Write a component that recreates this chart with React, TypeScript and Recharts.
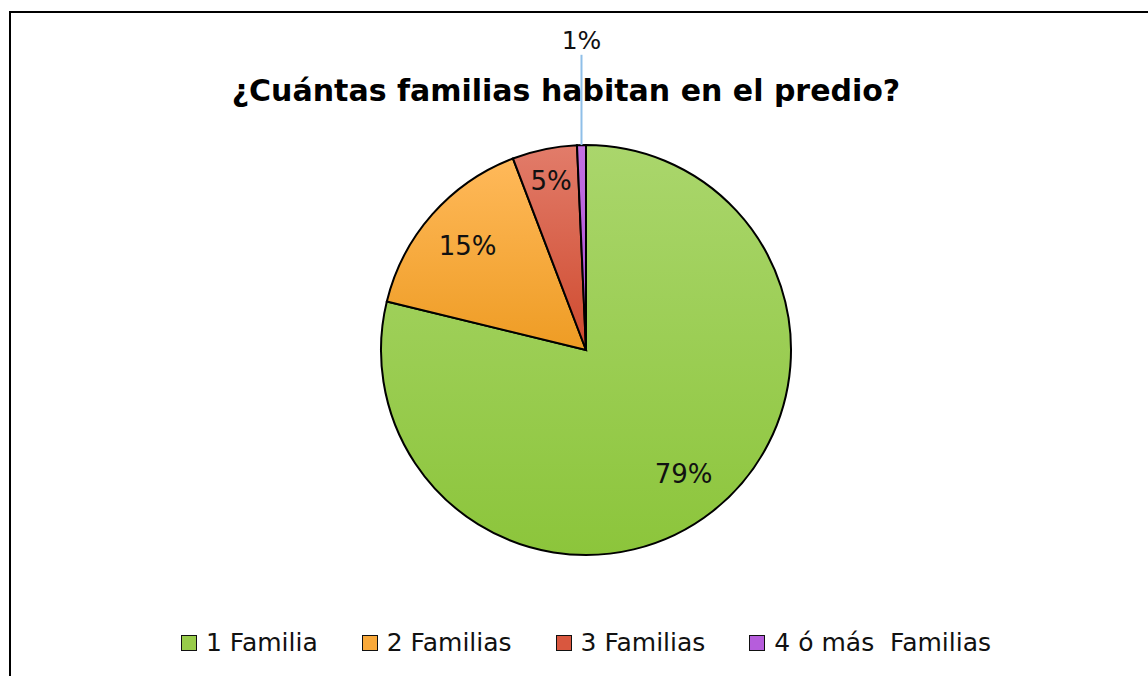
import React from 'react';
import { PieChart, Pie, Cell, Legend } from 'recharts';

const categories = ['1 Familia', '2 Familias', '3 Familias', '4 ó más  Familias'];
const shares = [78.8, 15.4, 5.1, 0.7];
const labelTexts = ['79%', '15%', '5%', '1%'];

const GRADIENTS = [
  ['#aad66c', '#8cc53b'],
  ['#ffb95a', '#ee9c24'],
  ['#e27c6a', '#cf4a2e'],
  ['#c272e2', '#a94bd2'],
];
const LEGEND_COLORS = ['#98cc4a', '#f9a93a', '#d9573f', '#b65ddc'];

const RADIAN = Math.PI / 180;
const FONT = "'DejaVu Sans', sans-serif";

const data = categories.map((name, i) => ({ name, value: shares[i] }));

const renderLabel = (props: any) => {
  const { cx, cy, midAngle, outerRadius, index } = props;
  const cos = Math.cos(-midAngle * RADIAN);
  const sin = Math.sin(-midAngle * RADIAN);
  if (index === 3) {
    // small slice: label sits above the pie with a leader line
    const x1 = cx + outerRadius * cos;
    const y1 = cy + outerRadius * sin;
    const y2 = cy - outerRadius * 1.44;
    return (
      <g>
        <line x1={x1} y1={y1} x2={x1} y2={y2} stroke="#8fbfe8" strokeWidth={2} />
        <text x={x1} y={cy - outerRadius * 1.51} textAnchor="middle" dominantBaseline="central"
          fontFamily={FONT} fontSize={25} fill="#111">
          {labelTexts[index]}
        </text>
      </g>
    );
  }
  const factor = index === 2 ? 0.84 : 0.77;
  const x = cx + outerRadius * factor * cos;
  const y = cy + outerRadius * factor * sin;
  return (
    <text x={x} y={y} textAnchor="middle" dominantBaseline="central"
      fontFamily={FONT} fontSize={26} fill="#111">
      {labelTexts[index]}
    </text>
  );
};

const renderLegend = () => (
  <div style={{ display: 'flex', justifyContent: 'center', gap: 44, paddingLeft: 24, fontFamily: FONT, fontSize: 25, color: '#111' }}>
    {categories.map((c, i) => (
      <div key={c} style={{ display: 'flex', alignItems: 'center' }}>
        <span style={{ width: 14, height: 14, border: '1.5px solid #111', background: LEGEND_COLORS[i], marginRight: 9 }} />
        <span style={{ whiteSpace: 'pre' }}>{c}</span>
      </div>
    ))}
  </div>
);

export default function App() {
  return (
    <div style={{ position: 'absolute', left: 0, top: 0, width: 1148, height: 676, overflow: 'hidden', background: '#fff' }}>
      <div style={{ position: 'absolute', left: 9, top: 11, width: 1200, height: 700, borderTop: '2px solid #000', borderLeft: '2px solid #000' }} />
      <div style={{ position: 'absolute', left: 0, top: 73, width: 1132, textAlign: 'center', fontFamily: FONT, fontWeight: 'bold', fontSize: 30, color: '#000' }}>
        ¿Cuántas familias habitan en el predio?
      </div>
      <PieChart width={1148} height={676} margin={{ top: 0, right: 0, bottom: 0, left: 0 }} style={{ position: 'absolute', left: 0, top: 0 }}>
        <defs>
          {GRADIENTS.map((g, i) => (
            <linearGradient key={i} id={`grad${i}`} x1="0" y1="0" x2="0" y2="1">
              <stop offset="0%" stopColor={g[0]} />
              <stop offset="100%" stopColor={g[1]} />
            </linearGradient>
          ))}
        </defs>
        <Pie
          data={data}
          dataKey="value"
          nameKey="name"
          cx={586}
          cy={350}
          outerRadius={205}
          startAngle={90}
          endAngle={-270}
          stroke="#000"
          strokeWidth={2}
          label={renderLabel}
          labelLine={false}
          isAnimationActive={false}
        >
          {data.map((entry, index) => (
            <Cell key={`cell-${index}`} fill={`url(#grad${index})`} />
          ))}
        </Pie>
        <Legend content={renderLegend} wrapperStyle={{ left: 0, top: 628, width: 1148 }} />
      </PieChart>
    </div>
  );
}
